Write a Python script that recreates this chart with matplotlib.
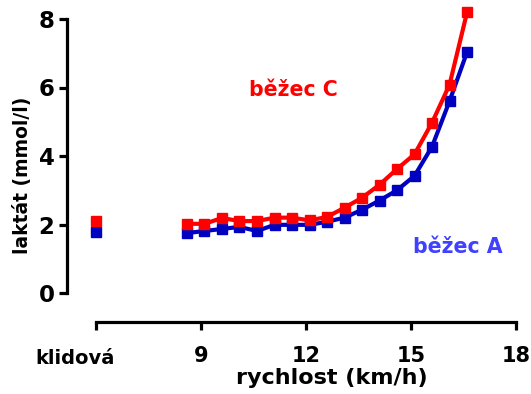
import matplotlib
matplotlib.use("Agg")
import matplotlib.pyplot as plt
from matplotlib.transforms import ScaledTranslation

plt.rcParams['font.family'] = ['DejaVu Sans']

# data
speeds = [8.6 + 0.5 * i for i in range(17)]
runner_A = [1.75, 1.81, 1.87, 1.93, 1.81, 1.99, 1.99, 1.99, 2.08, 2.2, 2.43, 2.7, 3.0, 3.42, 4.27, 5.6, 7.03]
runner_C = [2.02, 2.02, 2.19, 2.1, 2.1, 2.2, 2.2, 2.12, 2.22, 2.49, 2.78, 3.16, 3.62, 4.05, 4.97, 6.08, 8.19]
rest_x = 6
rest_A = 1.77
rest_C = 2.1
x_ticks = [6, 9, 12, 15, 18]
x_ticklabels = ['klidová', '9', '12', '15', '18']
y_ticks = [0, 2, 4, 6, 8]

W, H = 531, 394
fig = plt.figure(figsize=(W / 100, H / 100), dpi=100)
ax = fig.add_axes([67 / W, (H - 322) / H, (516 - 67) / W, (322 - 19) / H])
ax.set_xlim(6 - 29 / 35, 18)
ax.set_ylim(-29 / 34.25, 8)

red = '#ff0000'
blue = '#0000c0'
ax.plot(speeds, runner_C, color=red, lw=3, marker='s', ms=6.5, clip_on=False, zorder=3)
ax.plot(speeds, runner_A, color=blue, lw=3, marker='s', ms=6.5, clip_on=False, zorder=2)
ax.plot([rest_x], [rest_C], color=red, marker='s', ms=6.5, ls='none', clip_on=False, zorder=3)
ax.plot([rest_x], [rest_A], color=blue, marker='s', ms=6.5, ls='none', clip_on=False, zorder=2)

for s in ['top', 'right']:
    ax.spines[s].set_visible(False)
for s in ['left', 'bottom']:
    ax.spines[s].set_linewidth(2.3)
ax.spines['left'].set_bounds(0, 8)
ax.spines['bottom'].set_bounds(6, 18)

ax.set_yticks(y_ticks)
ax.set_yticklabels([str(v) for v in y_ticks], fontsize=16.5, fontweight='bold')
ax.set_xticks(x_ticks)
ax.set_xticklabels(x_ticklabels, fontweight='bold')
ax.tick_params(axis='both', length=6, width=2.3, color='black')
ax.tick_params(axis='y', pad=3)
ax.tick_params(axis='x', pad=11)
for i, lbl in enumerate(ax.get_xticklabels()):
    if i == 0:
        lbl.set_fontsize(14)
        lbl.set_transform(lbl.get_transform() + ScaledTranslation(-0.21, -0.03, fig.dpi_scale_trans))
    else:
        lbl.set_fontsize(15)

ax.set_ylabel('laktát (mmol/l)', fontsize=13.5, fontweight='bold')
ax.yaxis.set_label_coords((32 - 67) / (516 - 67), (322 - 175) / (322 - 19))
ax.set_xlabel('rychlost (km/h)', fontsize=16, fontweight='bold')
ax.xaxis.set_label_coords((332 - 67) / (516 - 67), (322 - 368) / (322 - 19))

ax.text(11.63, 5.93, 'běžec C', color=red, fontsize=14.8, fontweight='bold', ha='center', va='center')
ax.text(16.34, 1.34, 'běžec A', color='#4040ff', fontsize=14.8, fontweight='bold', ha='center', va='center')

fig.savefig('out.png', dpi=100)
